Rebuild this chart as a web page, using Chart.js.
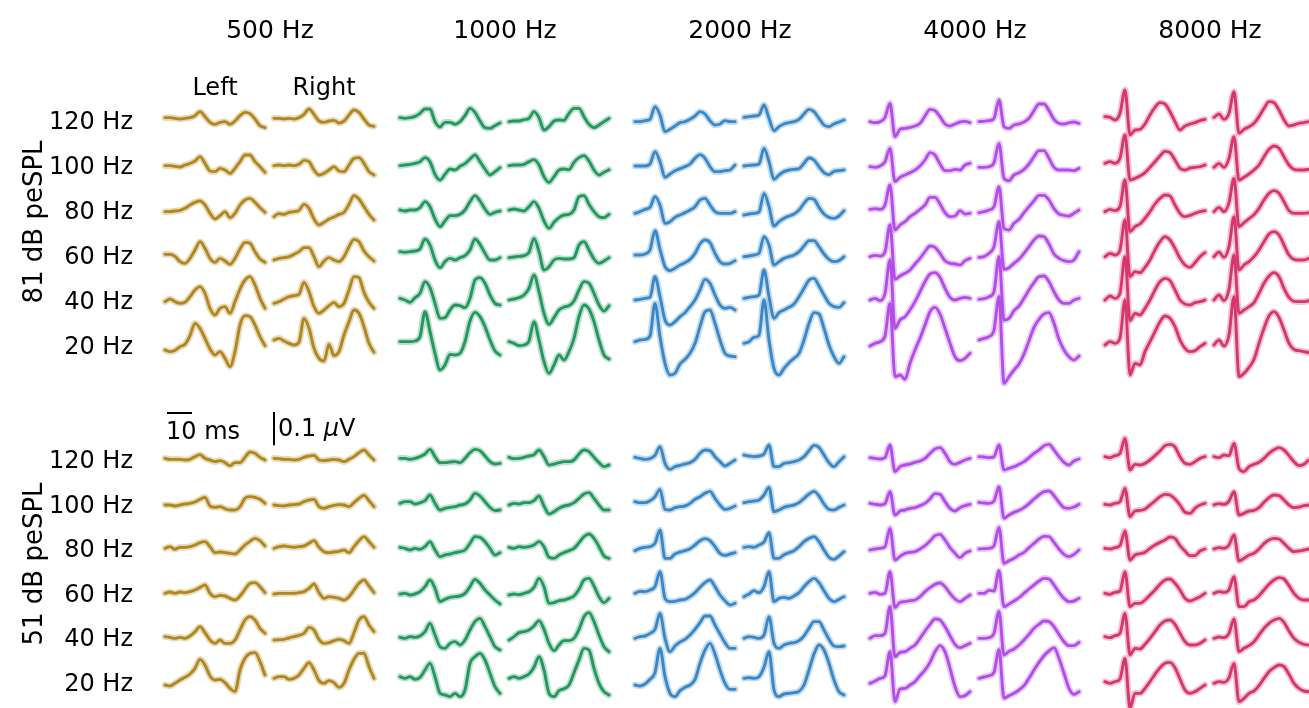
<!DOCTYPE html>
<html>
<head>
<meta charset="utf-8">
<script src="https://cdn.jsdelivr.net/npm/chart.js@4.4.0/dist/chart.umd.min.js"></script>
<style>
body { margin: 0; background: #fff; }
#wrap { position: relative; width: 1309px; height: 708px; overflow: hidden; font-family: "DejaVu Sans", sans-serif; color: #000; }
#wrap canvas { position: absolute; left: 0; top: 0; }
.lbl { position: absolute; font-size: 24px; line-height: 1; white-space: nowrap; }
.c { transform: translate(-50%, -50%); }
.r { transform: translate(-100%, -50%); }
.l { transform: translate(0, -50%); }
.v { font-size: 26px; transform: translate(-50%, -50%) rotate(-90deg); }
.t { font-size: 25px; }
</style>
</head>
<body>
<div id="wrap"><canvas id="abr" width="1309" height="708"></canvas></div>
<script>
// time grid of every trace (ms)
var times = [0,2,4,6,8,10,12,14,16,18,20,22,24,26,28,30,32,34,36,38,40];
var freqs = ['500 Hz', '1000 Hz', '2000 Hz', '4000 Hz', '8000 Hz'];
var rates = ['120 Hz', '100 Hz', '80 Hz', '60 Hz', '40 Hz', '20 Hz'];
var levels = ['81 dB peSPL', '51 dB peSPL'];
var ears = ['Left', 'Right'];
var colors = ['#b0861e', '#23975d', '#3a87c6', '#b24ee8', '#d6376a'];

// waveforms in nV, rows = 120,100,80,60,40,20 Hz
var hz500_81_left = [
  [10,10,8,6,8,10,16,28,13,-4,-10,-4,-2,-10,0,16,26,22,6,-14,-20],
  [1,1,-1,-3,3,8,15,28,8,-15,-17,-7,-12,-22,-7,13,33,33,13,-2,-19],
  [-2,-2,0,2,8,18,26,30,18,-7,-24,-14,-2,-20,-7,18,33,38,26,10,-4],
  [5,5,-1,-17,-22,-7,18,43,23,-7,-19,-7,-15,-25,-7,21,41,38,13,-9,-19],
  [-2,6,-2,-7,-4,13,33,43,23,-22,-42,-22,-17,-37,-2,36,63,73,48,8,-22],
  [-12,-17,-13,-2,5,31,68,53,23,-9,-27,-17,-37,-62,-17,63,91,88,63,28,1]
];
var hz500_81_right = [
  [8,8,6,8,6,10,20,36,20,0,-4,0,2,-6,0,18,33,26,6,-12,-16],
  [1,3,1,3,1,5,17,13,-12,-27,-22,-12,-2,-15,-17,3,23,25,8,-17,-27],
  [-17,-8,-10,-4,-2,2,20,8,-24,-42,-34,-24,-18,-10,-4,20,46,36,13,-10,-27],
  [-12,-7,-5,-2,5,13,25,25,-2,-32,-15,-5,-12,-17,-2,28,50,43,15,-2,-15],
  [-7,-2,6,13,16,20,56,28,-17,-37,-27,-14,-4,-17,-7,33,73,70,26,-4,-22],
  [18,23,15,8,3,11,83,53,-7,-37,-45,5,-29,-17,33,73,108,98,58,8,-19]
];
var hz1000_81_left = [
  [10,8,10,14,23,36,36,-2,-18,-4,-4,-10,-2,16,38,26,0,-20,-22,-14,-6],
  [1,3,5,8,13,25,13,-25,-42,-25,-9,-12,-1,7,21,33,13,-9,-27,-17,-5],
  [3,0,3,3,10,28,13,-24,-47,-30,-14,-14,-10,3,28,46,30,6,-10,-4,0],
  [13,11,13,15,21,51,33,-12,-35,-17,-7,-12,-5,1,18,51,35,8,-12,-12,-5],
  [8,3,-4,10,23,58,40,-7,-52,-50,-27,-12,-14,-20,8,63,70,53,18,-7,-12],
  [13,13,13,15,28,103,43,-22,-72,-57,-25,-27,-22,13,75,101,88,58,18,-15,-27]
];
var hz1000_81_right = [
  [-2,0,0,4,8,28,10,-27,-17,0,3,2,23,38,38,13,-10,-20,-12,-2,8],
  [1,3,3,5,13,19,3,-32,-49,-32,-12,-9,-11,11,25,31,15,-12,-27,-19,-11],
  [3,6,3,0,13,28,8,-30,-52,-34,-20,-12,-10,3,43,46,20,-2,-17,-20,-10],
  [-5,-3,-1,1,11,53,13,-42,-32,-12,-7,-9,-9,-5,33,43,18,-9,-22,-15,-5],
  [3,6,10,18,38,78,28,-37,-70,-50,-27,-18,-14,0,33,58,53,23,-12,-30,-14],
  [13,8,1,3,15,73,18,-47,-82,-57,-27,-42,-17,23,88,123,111,73,18,-27,-39]
];
var hz2000_81_left = [
  [-2,-2,1,5,43,18,-32,-25,-15,-5,-2,5,15,28,21,1,-12,-9,1,-2,-2],
  [0,0,0,6,43,13,-34,-24,-14,-8,-2,6,23,34,23,-2,-17,-17,-14,-12,3],
  [-7,-2,5,11,43,18,-37,-32,-19,-12,-5,3,13,33,38,18,-2,-7,-7,-7,-2],
  [3,3,6,18,76,20,-32,-44,-37,-27,-20,-10,8,36,48,40,8,-17,-24,-22,-14],
  [3,5,8,11,73,13,-57,-72,-62,-47,-35,-17,3,33,65,53,18,-12,-22,-19,-27],
  [13,18,20,30,128,28,-52,-87,-82,-54,-40,-22,8,58,103,108,68,18,-22,-30,-32]
];
var hz2000_81_right = [
  [11,13,15,18,48,8,-29,-17,-9,-5,-2,5,21,35,28,8,-12,-17,-9,-3,3],
  [0,2,3,6,53,13,-40,-27,-17,-12,-10,-8,8,24,18,-2,-20,-26,-16,-14,-12],
  [-12,-9,-7,-3,53,13,-45,-32,-22,-15,-9,3,23,38,35,11,-9,-19,-22,-15,1],
  [-2,0,3,8,58,33,-27,-17,-7,-2,3,13,30,46,46,28,6,-10,-17,-14,-2],
  [8,11,13,18,93,13,-52,-35,-27,-19,-9,13,38,63,68,45,18,-7,-17,-19,-5],
  [8,13,26,32,138,18,-67,-87,-67,-50,-37,-22,18,68,100,96,53,3,-32,-52,-32]
];
var hz4000_81_left = [
  [-2,-5,-2,11,53,-47,-25,-22,-19,-15,-7,15,35,31,13,-9,-15,-9,-3,-1,-5],
  [-2,-4,0,13,53,-47,-34,-27,-20,-12,0,18,40,33,6,-14,-14,-10,-12,3,8],
  [5,7,5,18,78,-57,-42,-32,-17,-7,5,18,41,41,21,-5,-17,-15,1,-9,-7],
  [-2,2,0,13,93,-70,-60,-52,-42,-24,-7,13,30,26,8,-14,-22,-24,-27,-14,-7],
  [3,8,1,23,123,-82,-57,-47,-27,-2,28,58,81,85,71,38,11,3,8,11,8],
  [0,8,13,30,128,-92,-87,-100,-52,-12,23,63,103,116,96,53,8,-32,-44,-37,-22]
];
var hz4000_81_right = [
  [-2,-1,1,8,63,-17,-22,-12,-9,-3,8,31,51,51,31,5,-7,-9,-5,-3,-7],
  [-4,-4,-2,10,68,-37,-44,-27,-20,-10,6,28,46,46,23,-4,-12,-12,-12,-14,-7],
  [-5,-2,3,13,73,-52,-57,-37,-25,-5,13,31,47,47,33,7,-9,-13,-15,-7,3],
  [-4,-2,8,28,103,-40,-35,-22,-10,8,28,48,60,58,36,6,-7,-14,-17,-12,13],
  [5,7,13,28,133,-57,-52,-29,-15,8,33,55,73,75,58,28,3,-7,-7,3,8],
  [18,23,28,48,148,-112,-92,-72,-54,-24,16,56,80,96,100,68,20,-12,-32,-42,-30]
];
var hz8000_81_left = [
  [13,11,3,23,93,-42,-27,-25,-9,18,41,55,51,28,-2,-27,-15,-9,-5,1,5],
  [8,13,8,23,93,-42,-37,-30,-20,-4,13,30,44,40,18,-7,-12,-6,-4,-2,3],
  [-2,5,1,13,93,-62,-47,-39,-22,-2,21,38,48,45,18,-7,-17,-13,-7,-2,1],
  [-2,8,3,18,108,-62,-47,-50,-34,-12,18,43,58,48,23,-7,-27,-34,-20,-2,10],
  [3,15,8,23,133,-59,-37,-42,-22,3,33,58,68,61,33,3,-9,-12,-5,-2,3],
  [3,13,8,23,138,-87,-52,-57,-17,13,43,73,90,83,58,18,-7,-17,-14,-2,8]
];
var hz8000_81_right = [
  [11,21,5,23,88,-37,-25,-17,-7,13,38,58,55,33,3,-15,-12,-7,-5,-2,-2],
  [-4,8,-4,23,88,-42,-34,-24,-12,3,28,50,60,53,28,3,-10,-12,-12,-10,-7],
  [-2,11,-2,25,98,-47,-35,-23,-11,8,33,53,61,53,28,1,-7,-7,-7,-5,-2],
  [-2,12,-4,28,118,-42,-27,-17,-2,18,43,66,73,63,33,3,-10,-12,-12,-7,-2],
  [3,18,1,35,138,-37,-27,-17,-5,23,53,75,85,73,38,11,-1,-2,-2,1,3],
  [3,18,0,33,148,-92,-82,-64,-40,8,53,90,103,86,48,8,-10,-14,-17,-20,-22]
];
var hz500_51_left = [
  [5,2,2,2,0,2,10,16,5,0,-5,-2,-8,-17,-8,-8,8,24,20,8,0],
  [0,0,-3,0,3,5,9,17,23,-3,-7,-5,-11,-15,-15,-5,20,25,23,17,5],
  [2,7,-1,5,5,7,12,19,22,7,-11,-9,-11,-13,-15,-3,12,23,32,25,9],
  [2,6,2,6,4,7,12,20,27,2,-8,-4,-6,-13,-18,-6,14,32,34,22,4],
  [4,2,-1,2,-1,6,19,34,16,-6,-16,-6,-16,-16,-6,24,54,64,54,29,14],
  [-6,-9,-1,9,17,27,44,71,54,21,9,11,1,-16,-26,39,74,89,91,64,24]
];
var hz500_51_right = [
  [5,4,2,2,0,2,8,12,14,0,-2,0,2,0,-5,2,10,22,30,15,0],
  [0,-2,-3,0,1,3,10,15,17,-5,-10,-5,-1,1,0,-5,7,20,29,13,-5],
  [2,7,9,7,5,7,9,17,25,5,-8,-11,-9,-7,-3,-11,7,25,37,22,5],
  [0,2,2,2,2,4,7,17,30,4,-13,-8,-10,-13,-18,-8,12,32,42,24,4],
  [-6,-5,-4,0,4,8,14,32,24,-4,-16,-14,-8,-4,-8,-16,16,54,64,39,19],
  [14,19,19,11,14,24,44,61,39,7,-1,7,1,-13,-1,39,71,89,89,49,14]
];
var hz1000_51_left = [
  [5,5,2,5,10,18,32,10,-8,-8,-6,-5,-8,5,22,32,28,12,-5,-12,-10],
  [5,10,10,3,7,13,30,5,-15,-10,-7,-5,0,3,15,35,27,10,-7,-17,-15],
  [5,2,-3,2,-1,7,22,-3,-23,-18,-15,-11,-8,-3,17,37,35,22,2,-18,-11],
  [0,2,-3,0,7,22,42,17,-23,-16,-10,-8,-6,2,22,44,32,12,-3,-18,-30],
  [2,-1,4,2,6,19,44,9,-26,-31,-16,-11,-21,-6,24,49,59,34,4,-26,-36],
  [19,14,19,11,17,39,59,19,-31,-36,-41,-31,-41,-21,59,79,89,69,29,-11,-31]
];
var hz1000_51_right = [
  [8,4,5,8,12,16,30,10,-15,-12,-8,-5,-5,0,18,30,25,8,-8,-20,-15],
  [0,5,3,7,7,13,27,-3,-27,-20,-10,-3,0,7,20,33,37,20,0,-15,-15],
  [5,2,7,5,7,12,22,7,-25,-28,-18,-11,-5,2,19,37,45,32,7,-21,-28],
  [-3,0,-2,2,7,20,47,22,-28,-26,-20,-18,-13,-6,14,42,47,24,-8,-26,-13],
  [-6,4,16,19,24,36,52,26,-16,-38,-21,-8,-8,-1,26,64,76,49,9,-26,-41],
  [14,19,14,19,27,47,79,39,-31,-41,-23,-17,-6,31,69,104,99,44,-1,-26,-36]
];
var hz2000_51_left = [
  [8,5,2,4,14,40,-10,-28,-20,-16,-12,-8,2,20,30,28,10,-5,-18,-10,0],
  [10,7,7,13,25,47,-13,-15,-8,-5,-3,5,17,25,35,41,20,0,-13,-10,-3],
  [-5,2,5,7,17,57,-28,-28,-15,-9,-5,1,12,25,31,25,7,-13,-19,-15,-11],
  [2,8,7,12,22,67,-13,-23,-22,-18,-16,-8,4,20,34,42,22,-3,-20,-33,-28],
  [-1,4,6,14,26,74,-1,-41,-24,-12,-4,9,26,46,66,66,39,12,-14,-31,-31],
  [-6,-9,-3,11,31,104,19,-31,-41,-23,-13,-6,11,59,99,119,87,39,-1,-19,-19]
];
var hz2000_51_right = [
  [15,12,10,12,18,45,-20,-20,-10,-8,-5,0,10,28,44,38,15,-8,-20,-5,10],
  [7,10,12,15,30,53,-20,-15,-7,-3,0,7,20,33,41,27,3,-13,-15,-7,0],
  [5,7,5,12,21,49,-28,-28,-17,-11,-5,7,22,32,37,22,-3,-25,-31,-21,-8],
  [-8,0,10,4,22,67,-23,-13,-10,-13,-6,4,22,37,47,34,10,-13,-23,-16,-8],
  [-1,4,2,-1,9,64,-16,-31,-21,-16,-14,-8,6,29,49,49,24,-4,-24,-26,-24],
  [14,16,14,19,47,94,-21,-41,-33,-31,-29,-25,-6,39,87,114,99,59,9,-26,-36]
];
var hz4000_51_left = [
  [7,5,3,7,45,-35,-20,-15,-12,-7,-3,5,20,33,37,20,-5,-13,-7,0,5],
  [5,2,0,4,40,-30,-18,-15,-10,-8,-2,5,18,34,32,10,-10,-18,-8,-2,2],
  [-3,0,2,7,62,-33,-22,-13,-10,-8,0,10,24,40,44,27,4,-13,-26,-13,-6],
  [2,5,-1,2,67,-41,-25,-23,-20,-18,-8,7,19,29,33,22,2,-15,-23,-13,-3],
  [-1,7,7,14,94,-56,-43,-41,-31,-21,-1,21,41,57,54,34,7,-19,-29,-23,-16],
  [-1,6,14,22,94,-56,-18,-16,-6,4,22,39,62,94,112,94,44,-11,-41,-38,-26]
];
var hz4000_51_right = [
  [10,9,7,10,45,-30,-25,-20,-13,-5,7,20,30,43,47,30,10,-7,-15,-3,3],
  [8,6,5,12,55,-40,-30,-22,-16,-8,4,18,30,40,42,28,8,-8,-10,-6,2],
  [0,1,2,10,65,-43,-35,-28,-18,-10,4,17,30,38,37,20,0,-16,-23,-16,-3],
  [2,2,11,9,70,-38,-30,-21,-11,2,15,27,39,47,45,27,5,-13,-23,-21,-13],
  [-1,-1,1,14,80,-51,-40,-33,-21,-6,11,29,41,51,49,34,11,-11,-23,-23,-13],
  [14,18,22,32,100,-46,-38,-31,-21,-8,14,39,62,82,96,106,74,29,-16,-34,-26]
];
var hz8000_51_left = [
  [10,7,13,20,65,-30,-13,-15,-10,0,13,27,43,47,39,10,-10,-13,-5,5,10],
  [2,0,5,10,50,-35,-18,-16,-12,0,12,25,32,30,18,0,-22,-25,-10,0,5],
  [2,0,4,10,54,-33,-18,-14,-10,2,12,20,27,36,32,10,-6,-20,-20,-6,0],
  [2,-1,5,9,67,-38,-28,-28,-18,-3,12,29,42,45,32,12,-13,-21,-15,-8,2],
  [4,1,7,14,74,-51,-31,-33,-19,-1,19,39,51,54,41,14,-11,-21,-21,-16,-6],
  [4,-1,4,12,74,-76,-31,-31,-16,4,26,46,59,62,46,12,-21,-31,-26,-16,-6]
];
var hz8000_51_right = [
  [10,7,15,13,50,-25,-35,-20,-13,-7,5,20,31,37,30,13,-5,-17,-13,0,7],
  [0,4,2,12,40,-30,-25,-18,-16,-8,8,22,30,28,15,0,-8,-6,-2,0,0],
  [0,4,2,12,42,-36,-28,-18,-13,0,16,27,32,30,17,2,-8,-6,-3,0,0],
  [2,7,5,13,52,-38,-38,-23,-18,-5,12,29,42,49,45,25,2,-13,-18,-18,-18],
  [-1,3,1,14,57,-41,-31,-23,-11,9,29,44,54,59,47,21,-1,-13,-19,-21,-21],
  [-1,4,2,16,59,-56,-46,-31,-24,-8,14,34,46,54,49,26,-1,-16,-24,-26,-26]
];

var waves = [
  [[hz500_81_left, hz500_81_right], [hz500_51_left, hz500_51_right]],
  [[hz1000_81_left, hz1000_81_right], [hz1000_51_left, hz1000_51_right]],
  [[hz2000_81_left, hz2000_81_right], [hz2000_51_left, hz2000_51_right]],
  [[hz4000_81_left, hz4000_81_right], [hz4000_51_left, hz4000_51_right]],
  [[hz8000_81_left, hz8000_81_right], [hz8000_51_left, hz8000_51_right]]
];

// layout (pixels) and scale: 10 ms = 25 px, 0.1 uV = 33.3 px
var W = 1309, H = 708;
var pxPerMs = 2.5, pxPerNv = 1 / 3;
var colLeft = 165, colStep = 235, earStep = 109;
var rowY = [[121, 166, 211, 256, 301, 346], [460, 505, 549, 594, 638, 683]];

function alpha(hex, a) {
  var n = parseInt(hex.slice(1), 16);
  return 'rgba(' + (n >> 16) + ',' + ((n >> 8) & 255) + ',' + (n & 255) + ',' + a + ')';
}

var datasets = [];
freqs.forEach(function(f, c) {
  levels.forEach(function(lv, l) {
    ears.forEach(function(ear, e) {
      rates.forEach(function(rt, r) {
        var w = waves[c][l][e][r];
        var x0 = (colLeft + c * colStep + e * earStep) / pxPerMs;
        var y0 = -rowY[l][r] / pxPerNv;
        var pts = times.map(function(t, k) { return {x: x0 + t, y: y0 + w[k]}; });
        datasets.push({
          data: pts.map(function(p) { return {x: p.x, y: p.y}; }),
          borderColor: alpha(colors[c], 0.3), borderWidth: 6.5, order: 1
        });
        datasets.push({
          data: pts, borderColor: colors[c], borderWidth: 2.9, order: 0
        });
      });
    });
  });
});

var scaleBars = {
  id: 'scaleBars',
  afterDatasetsDraw: function(chart) {
    var ctx = chart.ctx, xs = chart.scales.x, ys = chart.scales.y;
    var bx = (colLeft + 2) / pxPerMs, by = -413 / pxPerNv;
    var vx = (colLeft + earStep) / pxPerMs, vy = -412 / pxPerNv;
    ctx.save();
    ctx.strokeStyle = '#000';
    ctx.lineWidth = 2;
    ctx.beginPath();
    ctx.moveTo(xs.getPixelForValue(bx), ys.getPixelForValue(by));
    ctx.lineTo(xs.getPixelForValue(bx + 10), ys.getPixelForValue(by));
    ctx.moveTo(xs.getPixelForValue(vx), ys.getPixelForValue(vy));
    ctx.lineTo(xs.getPixelForValue(vx), ys.getPixelForValue(vy - 100));
    ctx.stroke();
    ctx.restore();
  }
};

new Chart(document.getElementById('abr'), {
  type: 'line',
  data: { datasets: datasets },
  options: {
    responsive: false,
    animation: false,
    layout: { padding: 0 },
    elements: {
      point: { radius: 0 },
      line: { cubicInterpolationMode: 'monotone', borderCapStyle: 'round', borderJoinStyle: 'round' }
    },
    plugins: { legend: { display: false }, tooltip: { enabled: false } },
    scales: {
      x: { type: 'linear', display: false, min: 0, max: W / pxPerMs },
      y: { type: 'linear', display: false, min: -H / pxPerNv, max: 0 }
    }
  },
  plugins: [scaleBars]
});

// text
var wrap = document.getElementById('wrap');
function label(text, x, y, cls) {
  var d = document.createElement('div');
  d.className = 'lbl ' + cls;
  d.style.left = x + 'px';
  d.style.top = y + 'px';
  d.innerHTML = text;
  wrap.appendChild(d);
}
freqs.forEach(function(f, c) { label(f, colLeft + 105 + c * colStep, 29, 'c t'); });
ears.forEach(function(ear, e) { label(ear, colLeft + 50 + e * earStep, 87, 'c'); });
rowY.forEach(function(rows) {
  rows.forEach(function(y, r) { label(rates[r], 133, y, 'r'); });
});
label(levels[0], 33, 222, 'v');
label(levels[1], 33, 564, 'v');
label('10 ms', colLeft + 1, 431, 'l');
label('0.1 <i>\u03bc</i>V', colLeft + earStep + 4, 428, 'l');
</script>
</body>
</html>
